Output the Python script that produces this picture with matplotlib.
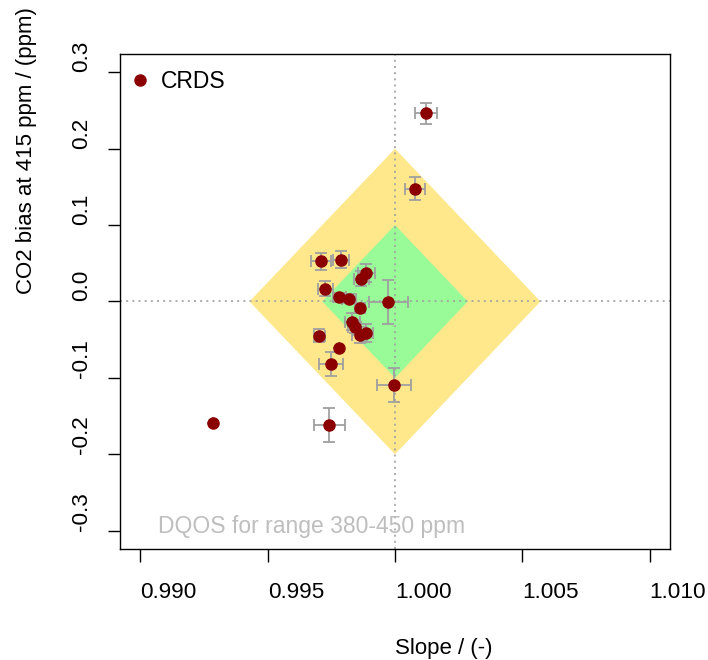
import numpy as np
import matplotlib
matplotlib.use('Agg')
import matplotlib.pyplot as plt
from matplotlib.lines import Line2D

plt.rcParams['font.family'] = ['Liberation Sans', 'DejaVu Sans']

# slope / bias results with their uncertainties
slope = [1.00123, 1.00077, 0.99709, 0.99788, 0.99888, 0.99868, 0.99726,
         0.99781, 0.99820, 0.99974, 0.99863, 0.99833, 0.99842, 0.99862,
         0.99885, 0.99703, 0.99781, 0.99748, 0.99996, 0.99285, 0.99742]
bias = [0.2463, 0.1478, 0.0525, 0.0547, 0.0372, 0.0298, 0.0166,
        0.0057, 0.0035, -0.0009, -0.0079, -0.0262, -0.0328, -0.0437,
        -0.0416, -0.0446, -0.0613, -0.0818, -0.1094, -0.1597, -0.1619]
slope_err = [0.00043, 0.00039, 0.00038, 0.00033, 0.00035, 0.00030, 0.00029,
             0.00025, 0.00028, 0.00078, 0.00020, 0.00030, 0.00025, 0.00030,
             0.00030, 0.00022, 0.0, 0.00046, 0.00067, 0.0, 0.00062]
bias_err = [0.0136, 0.0147, 0.0114, 0.0114, 0.0120, 0.0100, 0.0098,
            0.0060, 0.0060, 0.0284, 0.0060, 0.0105, 0.0080, 0.0100,
            0.0120, 0.0080, 0.0, 0.0153, 0.0219, 0.0, 0.0220]

# DQOS limits for the 380-450 ppm range
bias_lim = [0.2, 0.1]
span = 415 - 380
fills = ['#FEE88B', '#98FB98']

xticks = [0.990, 0.995, 1.000, 1.005, 1.010]
yticks = [-0.3, -0.2, -0.1, 0.0, 0.1, 0.2, 0.3]

fig = plt.figure(figsize=(7.08, 6.6), dpi=100)
ax = fig.add_axes([0.1695, 0.1682, 0.7768, 0.7500])

for b, c in zip(bias_lim, fills):
    s = b / span
    ax.fill([1 - s, 1, 1 + s, 1], [0, b, 0, -b], color=c, lw=0, zorder=1)

ax.axvline(1.0, color='#A0A0A0', ls=(0, (1.2, 2.5)), lw=1.2, zorder=2)
ax.axhline(0.0, color='#A0A0A0', ls=(0, (1.2, 2.5)), lw=1.2, zorder=2)

ax.errorbar(slope, bias, xerr=slope_err, yerr=bias_err, fmt='none',
            ecolor='#A0A0A0', elinewidth=1.3, capsize=4.5, capthick=1.3, zorder=3)
ax.plot(slope, bias, 'o', color='#8B0000', ms=8, zorder=4)

ax.text(0.9907, -0.294, 'DQOS for range 380-450 ppm', color='#BEBEBE',
        fontsize=16.5, ha='left', va='center', zorder=5)

h = Line2D([], [], marker='o', ls='none', color='#8B0000', ms=8)
ax.legend([h], ['CRDS'], loc='upper left', frameon=False, fontsize=16.5,
          handletextpad=0.45, borderaxespad=0, handlelength=1.0,
          bbox_to_anchor=(-0.002, 0.987))

ax.set_xlim(0.99 - 0.0008, 1.01 + 0.0008)
ax.set_ylim(-0.3 - 0.024, 0.3 + 0.024)
ax.set_xticks(xticks)
ax.set_xticklabels(['%.3f' % v for v in xticks], ha='left')
ax.set_yticks(yticks)
ax.set_yticklabels(['%.1f' % v for v in yticks], rotation=90, va='bottom')
ax.tick_params(direction='out', length=9, width=1, labelsize=16.2)
ax.tick_params(axis='x', pad=15)
ax.tick_params(axis='y', pad=11)
for sp in ax.spines.values():
    sp.set_linewidth(1)

# axis titles start at the middle of each axis
ax.set_xlabel('Slope / (-)', fontsize=16, ha='left', va='center')
ax.xaxis.set_label_coords(0.5, -0.2004)
ax.set_ylabel('CO2 bias at 415 ppm / (ppm)', fontsize=16)
ax.yaxis.label.set_horizontalalignment('left')
ax.yaxis.label.set_verticalalignment('center')
ax.yaxis.set_label_coords(-0.1709, 0.516)

fig.savefig('out.png', dpi=100)
